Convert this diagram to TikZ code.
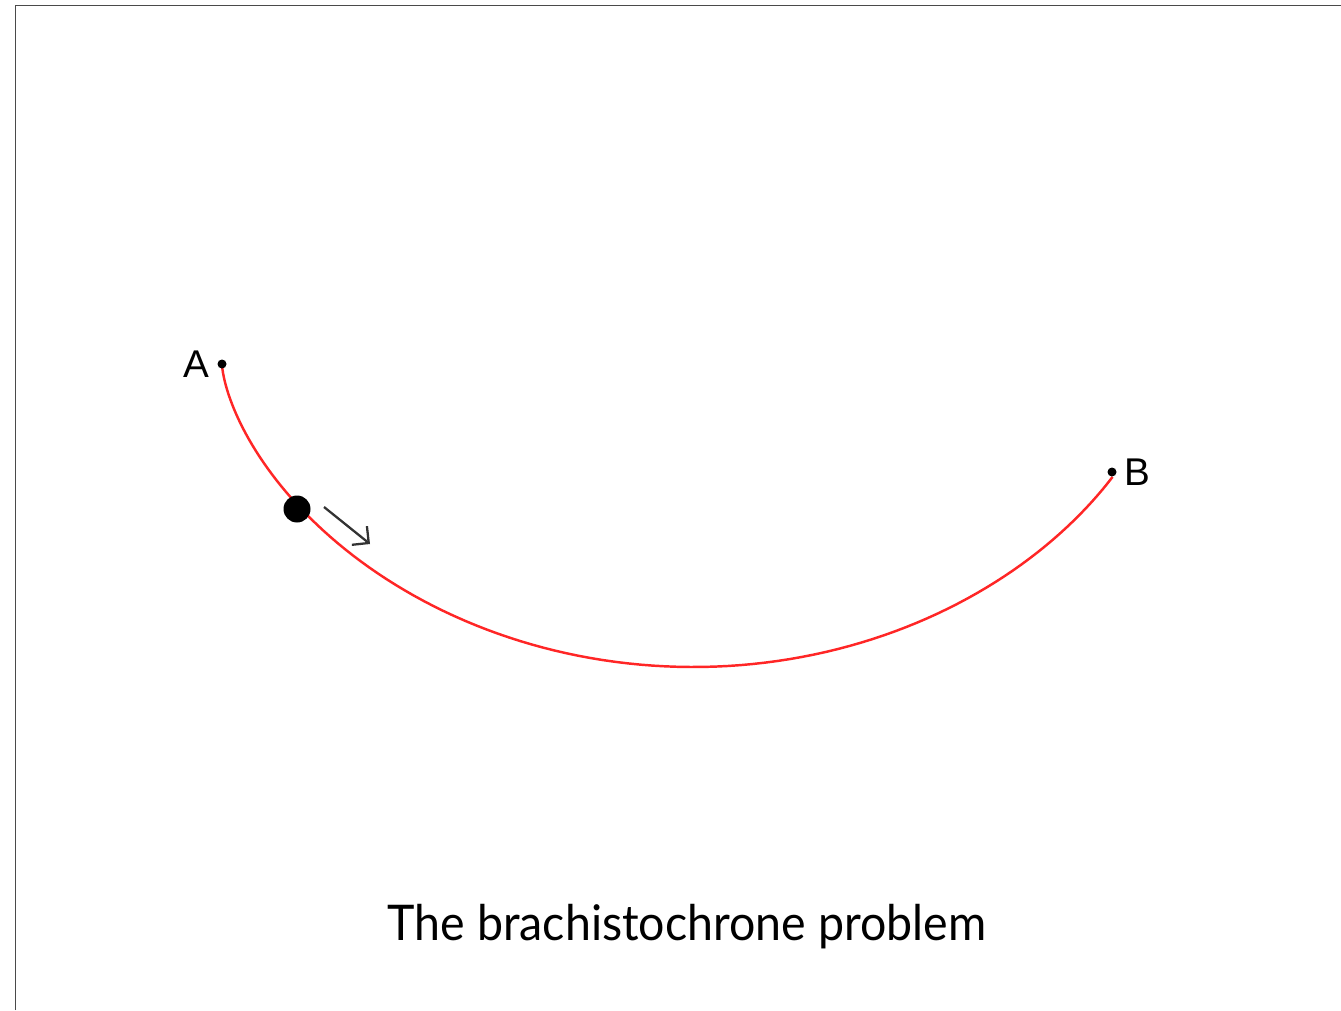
\documentclass[tikz,border=0pt]{standalone}
\usepackage{fontspec}
\setmainfont{Lato}
\newfontfamily\ptfont{Liberation Sans}
\newfontfamily\titlefont[FakeStretch=0.945]{Lato}
\usepackage{tikz}
\usetikzlibrary{arrows.meta,positioning}
\definecolor{CycloidRed}{HTML}{FF2626}
\definecolor{FrameGray}{HTML}{4A4A4A}
\definecolor{MoveGray}{HTML}{333333}
\tikzset{
  bcend/.style={
    circle,
    fill=black,
    inner sep=0pt,
    minimum size=1.8mm
  },
  bcball/.style={circle, fill=black, inner sep=0pt, minimum size=5.4mm},
  bclabel/.style={font=\ptfont\fontsize{22}{26}\selectfont, inner sep=0pt},
  bcpath/.style={draw=CycloidRed, line width=1.4pt},
  bcmove/.style={-{Straight Barb[length=2.4mm,width=4.8mm]}, line width=1.3pt, draw=MoveGray},
  bcframe/.style={draw=FrameGray, line width=1.1pt}
}

\begin{document}
\begin{tikzpicture}[x=0.02cm, y=-0.02cm]
  \useasboundingbox (0,0) rectangle (1341,1010);
  \draw[bcframe] (15.5,1010) -- (15.5,5.5) -- (1341,5.5);
  % cycloid from A to B
  \draw[bcpath] plot[domain=0:4.97, samples=120, variable=\t]
    ({222+150*(\t - sin(\t r))}, {364+151.5*(1-cos(\t r))});
  \node[bcend] (ptA) at (222,364) {};
  \node[bcend] (ptB) at (1112,472) {};
  \node[bclabel, left=4pt of ptA] (labA) {A};
  \node[bclabel, right=4pt of ptB] (labB) {B};
  \node[bcball] (ball) at (297,509) {};
  \coordinate (movefrom) at (324,507);
  \coordinate (moveto) at (370,544);
  \draw[bcmove] (movefrom) -- (moveto);
  \node[font=\titlefont\fontsize{28}{32}\selectfont, anchor=base] (title) at (687,940) {The brachistochrone problem};
\end{tikzpicture}
\end{document}
